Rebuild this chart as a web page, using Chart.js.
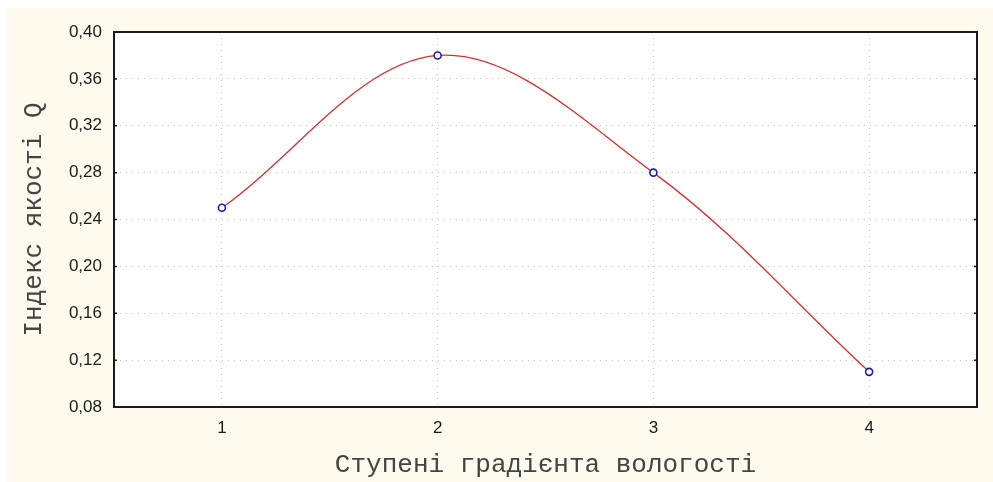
<!DOCTYPE html>
<html>
<head>
<meta charset="utf-8">
<script src="https://cdn.jsdelivr.net/npm/chart.js@4"></script>
<style>
    html, body { margin: 0; padding: 0; background: #ffffff; }
    #wrap { width: 993px; height: 482px; position: relative; }
</style>
</head>
<body>
<div id="wrap"><canvas id="chart" width="993" height="482"></canvas></div>
<script>
// Data
const gradientSteps = [1, 2, 3, 4];
const qualityIndex = [0.25, 0.38, 0.28, 0.11];
const xTicks = [1, 2, 3, 4];
const yTicks = [0.08, 0.12, 0.16, 0.20, 0.24, 0.28, 0.32, 0.36, 0.40];

const xTitle = 'Ступені градієнта вологості';
const yTitle = 'Індекс якості Q';

// beige page background and the plot frame
const frame = {
    id: 'frame',
    beforeDraw(chart) {
        const ctx = chart.ctx;
        const a = chart.chartArea;
        ctx.save();
        ctx.fillStyle = '#fffaee';
        ctx.fillRect(7, 8, chart.width - 7, chart.height - 8);
        ctx.fillStyle = '#ffffff';
        ctx.fillRect(a.left, a.top, a.right - a.left, a.bottom - a.top);
        ctx.restore();
    },
    afterDatasetsDraw(chart) {
        const ctx = chart.ctx;
        const a = chart.chartArea;
        const ys = chart.scales.y;
        ctx.save();
        ctx.strokeStyle = '#1a1a1a';
        ctx.lineWidth = 2;
        ctx.strokeRect(a.left, a.top, a.right - a.left, a.bottom - a.top);
        // small inward ticks on the left and right borders
        ctx.lineWidth = 1.5;
        yTicks.forEach(v => {
            const y = ys.getPixelForValue(v);
            ctx.beginPath();
            ctx.moveTo(a.left, y); ctx.lineTo(a.left + 3, y);
            ctx.moveTo(a.right, y); ctx.lineTo(a.right - 3, y);
            ctx.stroke();
        });
        ctx.restore();
    }
};

new Chart(document.getElementById('chart'), {
    type: 'line',
    data: {
        datasets: [{
            data: gradientSteps.map((x, i) => ({ x: x, y: qualityIndex[i] })),
            borderColor: '#d83030',
            borderWidth: 1.3,
            tension: 0.35,
            pointRadius: 3.5,
            pointBorderColor: '#1c1ca8',
            pointBackgroundColor: '#ffffff',
            pointBorderWidth: 1.6,
            fill: false
        }]
    },
    options: {
        responsive: false,
        animation: false,
        layout: { padding: { left: 0, top: 32, right: 16, bottom: 0 } },
        plugins: {
            legend: { display: false },
            tooltip: { enabled: false }
        },
        scales: {
            x: {
                type: 'linear',
                min: 0.5,
                max: 4.5,
                afterBuildTicks: axis => { axis.ticks = xTicks.map(v => ({ value: v })); },
                afterFit: axis => { axis.height = 75; },
                border: { display: false, dash: [1, 5] },
                grid: { color: '#c8c8c8', lineWidth: 1, drawTicks: false },
                ticks: {
                    color: '#1a1a1a',
                    padding: 11,
                    font: { family: 'Liberation Sans', size: 17 }
                },
                title: {
                    display: true,
                    text: xTitle,
                    color: '#444444',
                    padding: { top: 4, bottom: 1 },
                    font: { family: 'Liberation Mono', size: 26 }
                }
            },
            y: {
                min: 0.08,
                max: 0.40,
                afterBuildTicks: axis => { axis.ticks = yTicks.map(v => ({ value: v })); },
                afterFit: axis => { axis.width = 114; },
                border: { display: false, dash: [1, 5] },
                grid: { color: '#c8c8c8', lineWidth: 1, drawTicks: false },
                ticks: {
                    color: '#1a1a1a',
                    padding: 12,
                    font: { family: 'Liberation Sans', size: 17 },
                    callback: v => v.toFixed(2).replace('.', ',')
                },
                title: {
                    display: true,
                    text: yTitle,
                    color: '#444444',
                    padding: { top: 19, bottom: 0 },
                    font: { family: 'Liberation Mono', size: 26 }
                }
            }
        }
    },
    plugins: [frame]
});
</script>
</body>
</html>
